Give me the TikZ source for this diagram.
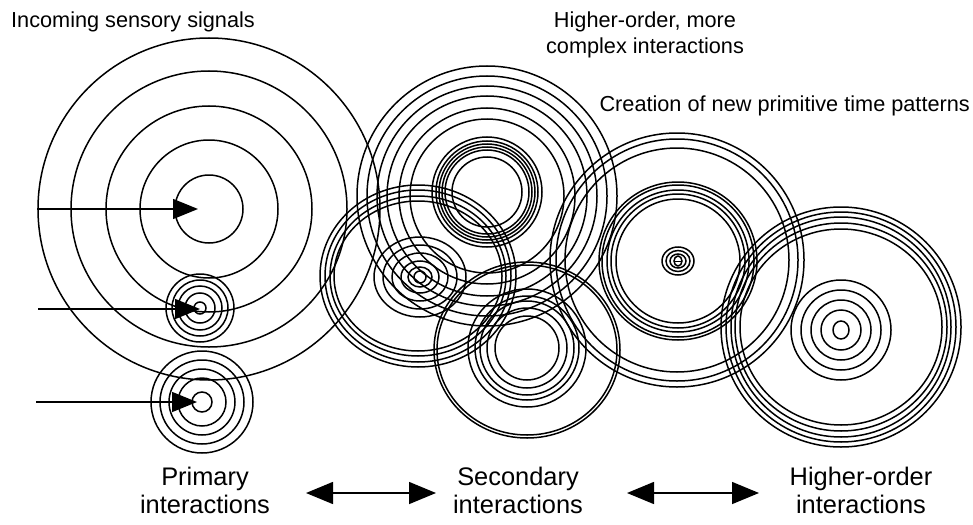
\documentclass[tikz,border=0pt]{standalone}
\usepackage{fontspec}
\setmainfont{Liberation Sans}
\usetikzlibrary{arrows.meta}
\tikzset{
  ring/.style={draw, line width=1.5pt},
  topText/.style={inner sep=0pt, font=\fontsize{21.7}{26}\selectfont},
  stageText/.style={inner sep=0pt, align=center, anchor=base, font=\fontsize{25.4}{28}\selectfont},
  signal/.style={-{Triangle[length=25pt,width=20pt]}, line width=1.5pt},
  exchange/.style={{Triangle[length=27pt,width=22pt]}-{Triangle[length=27pt,width=22pt]}, line width=1.5pt}
}

\begin{document}
\begin{tikzpicture}[x=1pt, y=-1pt]
      \useasboundingbox (0,0) rectangle (973,524);

      \coordinate (primA) at (209,209);
      \coordinate (primB) at (200,308);
      \coordinate (primC) at (202,402);
      \coordinate (secBig) at (487,196);
      \coordinate (secCore) at (487,192);
      \coordinate (secOval) at (418,276);
      \coordinate (secSmall) at (420,277);
      \coordinate (secLow) at (527,350);
      \coordinate (secLowCore) at (527,348);
      \coordinate (highMid) at (677,260);
      \coordinate (highMidCore) at (678,261);
      \coordinate (highRight) at (841,327);
      \coordinate (highRightCore) at (841,330);

      % primary
      \draw[ring] (primA) circle (34) circle (69) circle (103) circle (138) circle (171);
      \draw[ring] (primB) circle (34) circle (28) circle (22) circle (15) circle (6);
      \draw[ring] (primC) circle (51) circle (42) circle (33) circle (24) circle (10);

      % secondary
      \draw[ring] (secBig) circle (130) circle (120) circle (110) circle (100) circle (88) circle (77);
      \draw[ring] (secCore) circle (55) circle (51) circle (48) circle (45) circle (42) circle (35);
      \draw[ring] (secOval) circle [x radius=98, y radius=91] circle [x radius=93, y radius=86]
                            circle [x radius=88, y radius=80] circle [x radius=84, y radius=75];
      \draw[ring] (secSmall) circle [x radius=46, y radius=40] circle [x radius=37, y radius=32]
                             circle [x radius=28, y radius=24] circle [x radius=19, y radius=16]
                             circle [x radius=12, y radius=10] circle (6);
      \draw[ring] (secLow) circle [x radius=93, y radius=88] circle [x radius=90, y radius=85];
      \draw[ring] (secLowCore) circle (59) circle (52) circle (47) circle (40) circle (32);

      % higher-order
      \draw[ring] (highMid) circle (127) circle (121) circle (112);
      \draw[ring] (highMidCore) circle (79) circle (76) circle (71) circle (67) circle (62);
      \draw[ring] (highMidCore) circle [x radius=16, y radius=14] circle [x radius=12, y radius=10.5]
                                circle [x radius=8, y radius=7] circle [x radius=4, y radius=5];
      \draw[ring, line width=1pt] ([xshift=-4pt]highMidCore) -- ([xshift=4pt]highMidCore);
      \draw[ring] (highRight) circle (120) circle (115) circle (110) circle [x radius=106, y radius=104]
                              circle [x radius=101, y radius=98];
      \draw[ring] (highRightCore) circle (50) circle (40) circle (30) circle (20) circle [x radius=8, y radius=9];

      % incoming signals
      \coordinate (in1) at (37,209);
      \coordinate (in2) at (38,309);
      \coordinate (in3) at (36,402);
      \draw[signal, shorten >=11pt] (in1) -- (primA);
      \draw[signal] (in2) -- (primB |- in2);
      \draw[signal, shorten >=5pt] (in3) -- (primC);

      \node[topText, anchor=base west] (incoming) at (11,28) {Incoming sensory signals};
      \node[topText, align=center, anchor=base] (complex) at (645,54) {Higher-order, more\\complex interactions};
      \node[topText, anchor=base east] (creation) at (970,112) {Creation of new primitive time patterns};

      % stages
      \node[stageText] (primary) at (205,513) {Primary\\interactions};
      \node[stageText] (secondary) at (518,513) {Secondary\\interactions};
      \node[stageText] (higher) at (861,513) {Higher-order\\interactions};

      \coordinate (ex1a) at (306,493);
      \coordinate (ex1b) at (436,493);
      \coordinate (ex2a) at (627,493);
      \coordinate (ex2b) at (759,493);
      \draw[exchange] (ex1a) -- (ex1b);
      \draw[exchange] (ex2a) -- (ex2b);

    \end{tikzpicture}
\end{document}
